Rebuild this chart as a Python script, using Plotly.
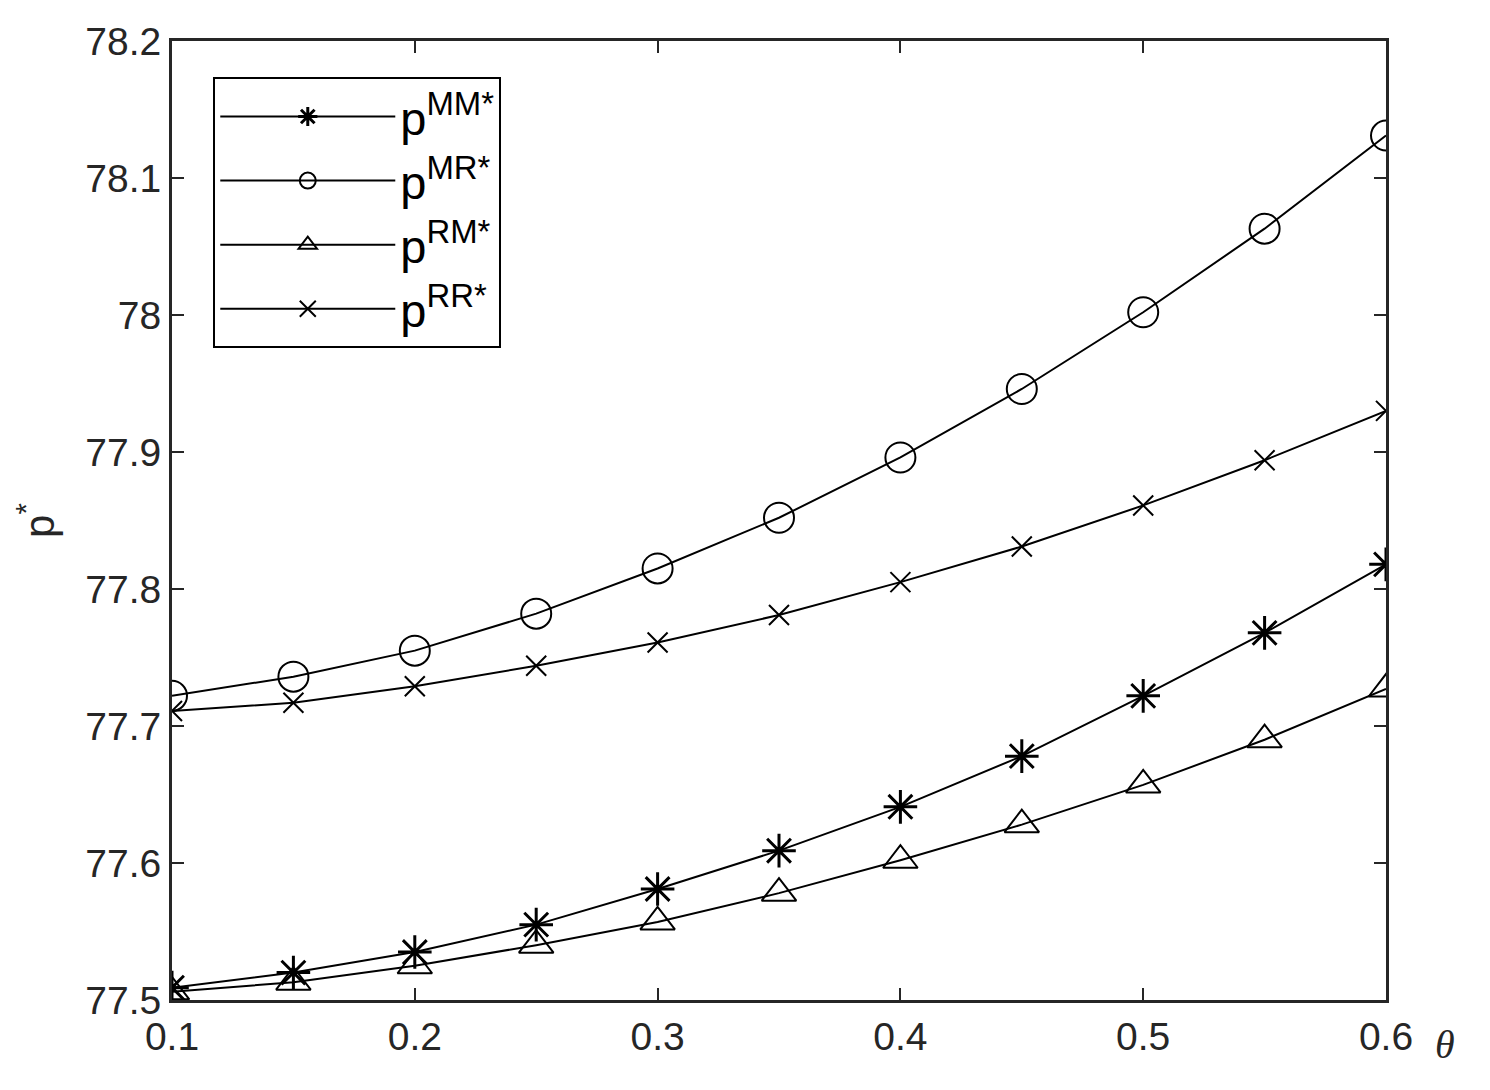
import plotly.graph_objects as go

theta = [0.1, 0.15, 0.2, 0.25, 0.3, 0.35, 0.4, 0.45, 0.5, 0.55, 0.6]

p_mm = [77.509, 77.520, 77.535, 77.555, 77.581, 77.609, 77.641, 77.678, 77.722, 77.768, 77.818]
p_mr = [77.722, 77.736, 77.755, 77.782, 77.815, 77.852, 77.896, 77.946, 78.002, 78.063, 78.131]
p_rm = [77.506, 77.513, 77.525, 77.540, 77.557, 77.578, 77.602, 77.628, 77.657, 77.690, 77.727]
p_rr = [77.711, 77.717, 77.729, 77.744, 77.761, 77.781, 77.805, 77.831, 77.861, 77.894, 77.930]

names = ['p<sup>MM*</sup>', 'p<sup>MR*</sup>', 'p<sup>RM*</sup>', 'p<sup>RR*</sup>']
symbols = ['asterisk-open', 'circle-open', 'triangle-up-open', 'x-thin-open']
sizes = [28, 30, 30, 20]
mwidth = [3, 2, 2, 2]

fig = go.Figure()
for ys, nm, sym, sz, mw in zip([p_mm, p_mr, p_rm, p_rr], names, symbols, sizes, mwidth):
    fig.add_trace(go.Scatter(
        x=theta, y=ys, name=nm, mode='lines+markers',
        line=dict(color='black', width=2),
        marker=dict(symbol=sym, size=sz, color='black', line=dict(color='black', width=mw)),
    ))

axis_style = dict(
    showline=True, linecolor='#262626', linewidth=3, mirror='ticks',
    ticks='inside', ticklen=12, tickwidth=2, tickcolor='#262626',
    showgrid=False, zeroline=False,
    tickfont=dict(family='Liberation Sans, Arial', size=39, color='#262626'),
)

fig.update_layout(
    width=1490, height=1090,
    margin=dict(l=164, r=112, t=29, b=98),
    paper_bgcolor='white', plot_bgcolor='white',
    showlegend=True,
    legend=dict(
        x=0.034, y=0.962, xanchor='left', yanchor='top',
        bordercolor='black', borderwidth=2, bgcolor='white',
        font=dict(family='Liberation Sans, Arial', size=47, color='black'),
        tracegroupgap=0, itemwidth=175, itemsizing='trace',
    ),
    xaxis=dict(range=[0.1, 0.6], tickvals=[0.1, 0.2, 0.3, 0.4, 0.5, 0.6],
               ticktext=['0.1', '0.2', '0.3', '0.4', '0.5', '0.6'], **axis_style),
    yaxis=dict(range=[77.5, 78.2], tickvals=[77.5, 77.6, 77.7, 77.8, 77.9, 78.0, 78.1, 78.2],
               ticktext=['77.5', '77.6', '77.7', '77.8', '77.9', '78', '78.1', '78.2'],
               title=dict(text='p<sup>*</sup>', standoff=18,
                          font=dict(family='Liberation Sans, Arial', size=42, color='#262626')),
               **axis_style),
)

fig.add_annotation(
    xref='paper', yref='paper', x=1.0, y=0, xshift=59, yshift=-44,
    xanchor='center', yanchor='middle',
    text='<i>θ</i>', showarrow=False,
    font=dict(family='Liberation Serif, Times New Roman', size=40, color='#262626'),
)

fig.write_html('out.html')
